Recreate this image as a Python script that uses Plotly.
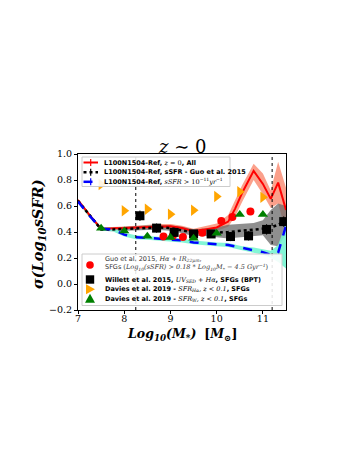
import plotly.graph_objects as go

# ---------------- data ----------------
mass_sim = [7.0, 7.25, 7.5, 7.75, 8.0, 8.25, 8.5, 8.75, 9.0, 9.25, 9.5, 9.75,
            10.0, 10.25, 10.4, 10.55, 10.8, 11.0, 11.17, 11.33, 11.5]

all_sig = [0.645, 0.53, 0.425, 0.425, 0.43, 0.435, 0.44, 0.445, 0.445, 0.43, 0.405, 0.42,
           0.435, 0.48, 0.58, 0.70, 0.87, 0.77, 0.655, 0.78, 0.57]
all_lo = [0.635, 0.52, 0.415, 0.415, 0.42, 0.425, 0.428, 0.43, 0.43, 0.413, 0.388, 0.40,
          0.41, 0.44, 0.52, 0.63, 0.80, 0.69, 0.585, 0.62, 0.40]
all_hi = [0.655, 0.54, 0.435, 0.437, 0.442, 0.448, 0.455, 0.462, 0.462, 0.448, 0.425, 0.443,
          0.465, 0.53, 0.64, 0.76, 0.925, 0.85, 0.72, 0.94, 0.74]

guo_sig = [0.64, 0.53, 0.42, 0.42, 0.425, 0.43, 0.435, 0.435, 0.43, 0.415, 0.395, 0.40,
           0.395, 0.40, 0.405, 0.41, 0.415, 0.425, 0.435, 0.455, 0.49]
guo_lo = [0.63, 0.52, 0.41, 0.405, 0.41, 0.41, 0.415, 0.415, 0.41, 0.39, 0.37, 0.37,
          0.36, 0.35, 0.355, 0.36, 0.37, 0.375, 0.30, 0.29, 0.38]
guo_hi = [0.65, 0.54, 0.43, 0.435, 0.44, 0.45, 0.455, 0.455, 0.45, 0.44, 0.42, 0.43,
          0.435, 0.455, 0.46, 0.465, 0.47, 0.49, 0.57, 0.62, 0.60]

ssfr_sig = [0.635, 0.525, 0.425, 0.42, 0.38, 0.36, 0.355, 0.35, 0.345, 0.335, 0.32, 0.31,
            0.305, 0.30, 0.29, 0.275, 0.26, 0.245, 0.225, 0.24, 0.45]
ssfr_lo = [0.625, 0.51, 0.41, 0.405, 0.365, 0.345, 0.34, 0.335, 0.33, 0.32, 0.305, 0.295,
           0.29, 0.285, 0.275, 0.26, 0.24, 0.225, 0.20, 0.17, 0.12]
ssfr_hi = [0.65, 0.54, 0.44, 0.435, 0.395, 0.375, 0.37, 0.365, 0.36, 0.35, 0.335, 0.325,
           0.32, 0.315, 0.305, 0.29, 0.28, 0.265, 0.255, 0.30, 0.47]

guo_obs_x = [8.85, 9.05, 9.27, 9.69, 10.1, 10.34, 10.73]
guo_obs_y = [0.365, 0.37, 0.362, 0.395, 0.485, 0.515, 0.558]
guo_obs_err = [0.0, 0.0, 0.0, 0.0, 0.0, 0.0, 0.025]

willett_x = [8.34, 8.7, 9.08, 9.5, 9.88, 10.3, 10.69, 11.08, 11.45]
willett_y = [0.525, 0.43, 0.397, 0.385, 0.385, 0.365, 0.37, 0.42, 0.48]
willett_err = [0.04, 0.035, 0.03, 0.03, 0.03, 0.035, 0.035, 0.04, 0.04]

davies_ha_x = [7.5, 8.0, 8.5, 9.0, 9.5, 10.0, 10.5, 11.0]
davies_ha_y = [0.765, 0.563, 0.575, 0.537, 0.567, 0.673, 0.71, 0.667]

davies_w_x = [7.5, 8.0, 8.5, 9.0, 9.5, 10.0, 10.5, 11.0]
davies_w_y = [0.428, 0.408, 0.368, 0.358, 0.352, 0.39, 0.535, 0.535]

vline_x = [8.25, 11.2]

x_ticks = [7, 8, 9, 10, 11]
y_ticks = [-0.2, 0.0, 0.2, 0.4, 0.6, 0.8, 1.0]

SERIF = "DejaVu Serif"
SANS = "DejaVu Sans"

sim_labels = [
    "<b>L100N1504-Ref, </b><span style=\"font-family:DejaVu Serif\"><i>z</i> = 0</span><b>, All</b>",
    "<b>L100N1504-Ref, sSFR - Guo et al. 2015</b>",
    "<b>L100N1504-Ref, </b><span style=\"font-family:DejaVu Serif\"><i>sSFR</i> &gt; 10<sup>−11</sup><i>yr</i><sup>−1</sup></span>",
]
obs_labels = [
    "Guo et al. 2015, <span style=\"font-family:DejaVu Serif\"><i>Hα + IR<sub>22μm</sub></i></span>,<br>"
    "SFGs <span style=\"font-family:DejaVu Serif\">(<i>Log<sub>10</sub>(sSFR) &gt; 0.18 * Log<sub>10</sub>M<sub>*</sub> − 4.5 Gyr<sup>−1</sup></i>)</span>",
    "<b>Willett et al. 2015, </b><span style=\"font-family:DejaVu Serif\"><i>UV<sub>SED</sub> + Hα</i></span><b>, SFGs (BPT)</b>",
    "<b>Davies et al. 2019 - </b><span style=\"font-family:DejaVu Serif\"><i>SFR<sub>Hα</sub>, z &lt; 0.1</i></span><b>, SFGs</b>",
    "<b>Davies et al. 2019 - </b><span style=\"font-family:DejaVu Serif\"><i>SFR<sub>W</sub>, z &lt; 0.1</i></span><b>, SFGs</b>",
]

# ---------------- layout geometry (page pixels) ----------------
W, H = 357, 462
OFF = 8  # page body margin
PL, PR, PT, PB = 78, 286, 154, 310  # plot area on the page


def px(xp):
    return (xp - PL) / (PR - PL)


def py(yp):
    return (PB - yp) / (PB - PT)


fig = go.Figure()

# bands
for lo, hi, col in [(all_lo, all_hi, "rgba(250,128,100,0.75)"),
                    (guo_lo, guo_hi, "rgba(105,105,105,0.75)"),
                    (ssfr_lo, ssfr_hi, "rgba(118,245,210,0.9)")]:
    fig.add_trace(go.Scatter(x=mass_sim, y=lo, mode="lines", line=dict(width=0),
                             showlegend=False, hoverinfo="skip"))
    fig.add_trace(go.Scatter(x=mass_sim, y=hi, mode="lines", line=dict(width=0),
                             fill="tonexty", fillcolor=col, showlegend=False, hoverinfo="skip"))

# lines
fig.add_trace(go.Scatter(x=mass_sim, y=all_sig, mode="lines",
                         line=dict(color="red", width=2), showlegend=False))
fig.add_trace(go.Scatter(x=mass_sim, y=guo_sig, mode="lines",
                         line=dict(color="black", width=2.5, dash="dot"), showlegend=False))
fig.add_trace(go.Scatter(x=mass_sim, y=ssfr_sig, mode="lines",
                         line=dict(color="blue", width=2.5, dash="dash"), showlegend=False))

# observations
fig.add_trace(go.Scatter(x=guo_obs_x, y=guo_obs_y, mode="markers",
                         error_y=dict(type="data", array=guo_obs_err, color="red", thickness=1, width=0),
                         marker=dict(symbol="circle", size=8, color="red"), showlegend=False))
fig.add_trace(go.Scatter(x=willett_x, y=willett_y, mode="markers",
                         error_y=dict(type="data", array=willett_err, color="black", thickness=1, width=0),
                         marker=dict(symbol="square", size=9, color="black"), showlegend=False))
fig.add_trace(go.Scatter(x=davies_ha_x, y=davies_ha_y, mode="markers",
                         marker=dict(symbol="triangle-right", size=10, color="orange"), showlegend=False))
fig.add_trace(go.Scatter(x=davies_w_x, y=davies_w_y, mode="markers",
                         marker=dict(symbol="triangle-up", size=9, color="green"), showlegend=False))

shapes = []
for xv in vline_x:
    shapes.append(dict(type="line", xref="x", yref="paper", x0=xv, x1=xv, y0=0, y1=1,
                       line=dict(color="black", width=1, dash="dot"), layer="above"))

# legend boxes
box_style = dict(type="rect", xref="paper", yref="paper", fillcolor="rgba(255,255,255,0.88)",
                 line=dict(color="#cccccc", width=1), layer="above")
shapes.append(dict(box_style, x0=px(82), x1=px(230), y0=py(186.5), y1=py(157)))
shapes.append(dict(box_style, x0=px(82), x1=px(282), y0=py(305.5), y1=py(254)))

annotations = []
# upper legend entries
sim_styles = [("red", "solid", 2), ("black", "dot", 2.5), ("blue", "dash", 2.5)]
for yp, (col, dash, w), lab in zip([162.5, 172.3, 181.8], sim_styles, sim_labels):
    shapes.append(dict(type="line", xref="paper", yref="paper", x0=px(83.5), x1=px(98),
                       y0=py(yp), y1=py(yp), line=dict(color=col, width=w, dash=dash), layer="above"))
    shapes.append(dict(type="line", xref="paper", yref="paper", x0=px(90.7), x1=px(90.7),
                       y0=py(yp - 3.5), y1=py(yp + 3.5), line=dict(color=col, width=1.2), layer="above"))
    annotations.append(dict(xref="paper", yref="paper", x=px(102), y=py(yp), text=lab,
                            showarrow=False, xanchor="left", yanchor="middle",
                            font=dict(family=SANS, size=6.5, color="black")))

# lower legend entries
mk_x = 90
obs_rows = [265, 279.5, 289.2, 298.8]
r = 3.8
shapes.append(dict(type="circle", xref="paper", yref="paper", x0=px(mk_x - r), x1=px(mk_x + r),
                   y0=py(obs_rows[0] + r), y1=py(obs_rows[0] - r), fillcolor="red",
                   line=dict(color="red", width=0), layer="above"))
shapes.append(dict(type="rect", xref="paper", yref="paper", x0=px(mk_x - 4.2), x1=px(mk_x + 4.2),
                   y0=py(obs_rows[1] + 4.2), y1=py(obs_rows[1] - 4.2), fillcolor="black",
                   line=dict(color="black", width=0), layer="above"))
ty = obs_rows[2]
shapes.append(dict(type="path", xref="paper", yref="paper",
                   path=f"M {px(mk_x-4)},{py(ty-5)} L {px(mk_x+5)},{py(ty)} L {px(mk_x-4)},{py(ty+5)} Z",
                   fillcolor="orange", line=dict(color="orange", width=0), layer="above"))
ty = obs_rows[3]
shapes.append(dict(type="path", xref="paper", yref="paper",
                   path=f"M {px(mk_x-5)},{py(ty+4)} L {px(mk_x)},{py(ty-5)} L {px(mk_x+5)},{py(ty+4)} Z",
                   fillcolor="green", line=dict(color="green", width=0), layer="above"))

text_rows = [263.5, 279.5, 289.2, 298.8]
for i, (yp, lab) in enumerate(zip(text_rows, obs_labels)):
    annotations.append(dict(xref="paper", yref="paper", x=px(103), y=py(yp), text=lab,
                            showarrow=False, xanchor="left", yanchor="middle", align="left",
                            font=dict(family=SANS, size=6.5, color="#333333" if i == 0 else "black")))

# title and axis titles
annotations.append(dict(xref="paper", yref="paper", x=0.5, y=py(146), text="<i>z</i> ∼ 0",
                        showarrow=False, xanchor="center", yanchor="middle",
                        font=dict(family=SERIF, size=18, color="black")))
annotations.append(dict(xref="paper", yref="paper", x=px(38), y=py(234),
                        text="<b><i>σ(Log<sub>10</sub>sSFR)</i></b>", textangle=-90,
                        showarrow=False, xanchor="center", yanchor="middle",
                        font=dict(family=SERIF, size=14.5, color="black")))
annotations.append(dict(xref="paper", yref="paper", x=px(182), y=py(324), yanchor="top",
                        text="<b><i>Log<sub>10</sub>(M<sub>*</sub>)</i></b>  <b>[<i>M</i><sub>⊙</sub>]</b>",
                        showarrow=False, xanchor="center",
                        font=dict(family=SERIF, size=12.5, color="black")))

axis_common = dict(showgrid=False, zeroline=False, showline=True, linecolor="black", linewidth=1,
                   mirror=True, ticks="outside", ticklen=3, tickwidth=1, tickcolor="black",
                   tickfont=dict(family=SERIF, size=9.5, color="black"))

fig.update_layout(
    width=W, height=H,
    margin=dict(l=PL - OFF, r=W - (PR - OFF), t=PT - OFF, b=H - (PB - OFF), pad=0),
    paper_bgcolor="white", plot_bgcolor="white",
    showlegend=False,
    xaxis=dict(axis_common, range=[7, 11.5], tickvals=x_ticks, ticktext=[str(v) for v in x_ticks],
               ticklabelstandoff=-3),
    yaxis=dict(axis_common, range=[-0.2, 1.0], tickvals=y_ticks, tickformat=".1f"),
    shapes=shapes,
    annotations=annotations,
)

fig.write_html("out.html")
